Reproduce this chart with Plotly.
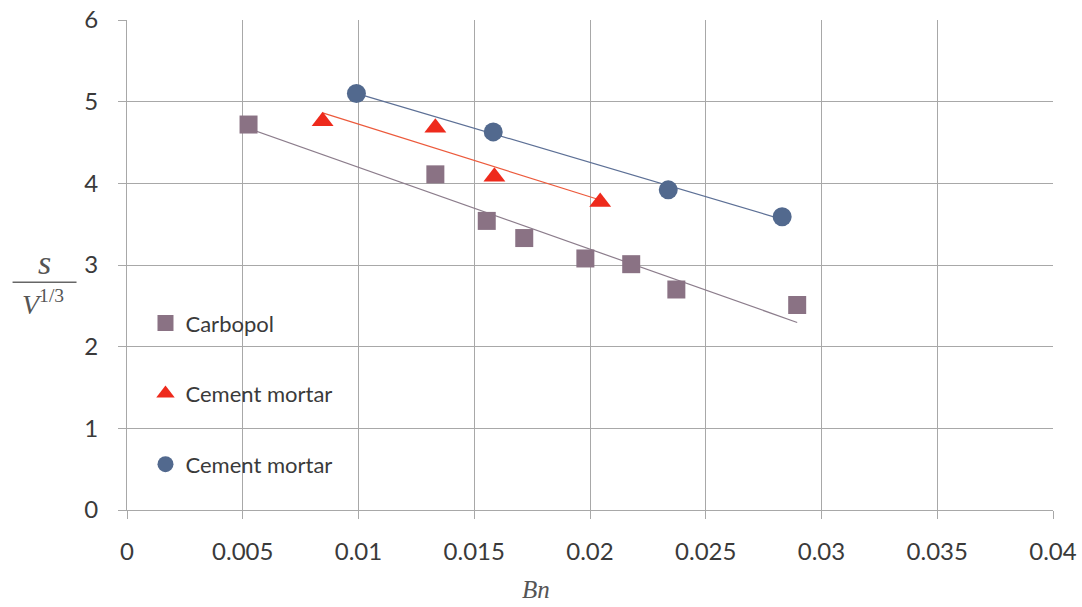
import numpy as np
import plotly.graph_objects as go

# Bingham number vs. normalised slump, three test series
carbopol_bn = [0.00525, 0.01332, 0.01554, 0.01716, 0.01980, 0.02178, 0.02373, 0.02895]
carbopol_s = [4.72, 4.11, 3.54, 3.33, 3.08, 3.01, 2.70, 2.51]

mortar_a_bn = [0.00845, 0.01332, 0.01587, 0.02044]
mortar_a_s = [4.76, 4.68, 4.08, 3.77]

mortar_b_bn = [0.00991, 0.01582, 0.02338, 0.02830]
mortar_b_s = [5.10, 4.63, 3.92, 3.59]

x_ticks = [0, 0.005, 0.01, 0.015, 0.02, 0.025, 0.03, 0.035, 0.04]
x_tick_text = ["0", "0.005", "0.01", "0.015", "0.02", "0.025", "0.03", "0.035", "0.04"]
y_ticks = [0, 1, 2, 3, 4, 5, 6]

W, H = 1082, 607
ML, MR, MT, MB = 126.5, 29, 19.5, 97
PW, PH = W - ML - MR, H - MT - MB

TEXT = "#3a3a3a"
GRID = "#a8a8a8"
FONT = "Lato"
SERIF = "Liberation Serif"

series = [
    dict(name="Carbopol", x=carbopol_bn, y=carbopol_s, symbol="square", size=18,
         color="#8a7284", line="#8c7d8c"),
    dict(name="Cement mortar", x=mortar_a_bn, y=mortar_a_s, symbol="triangle-up", size=19,
         color="#ee2a1c", line="#ec5a3c"),
    dict(name="Cement mortar", x=mortar_b_bn, y=mortar_b_s, symbol="circle", size=19,
         color="#52698e", line="#5d7096"),
]

fig = go.Figure()

# linear trend lines fitted to each series
for s in series:
    k, b = np.polyfit(s["x"], s["y"], 1)
    xs = np.array([min(s["x"]), max(s["x"])])
    fig.add_trace(go.Scatter(x=xs, y=k * xs + b, mode="lines",
                             line=dict(color=s["line"], width=1.2),
                             showlegend=False, hoverinfo="skip"))

for i, s in enumerate(series):
    fig.add_trace(go.Scatter(x=s["x"], y=s["y"], mode="markers", name=s["name"],
                             legendgroup=f"g{i}",
                             marker=dict(symbol=s["symbol"], size=s["size"], color=s["color"],
                                         line=dict(width=0))))

axis_common = dict(showgrid=True, gridcolor=GRID, gridwidth=1, showline=True,
                   linecolor=GRID, linewidth=1, zeroline=False, ticks="outside",
                   ticklen=8, tickcolor=GRID,
                   tickfont=dict(family=FONT, size=24, color=TEXT))

fig.update_xaxes(range=[0, 0.04], tickvals=x_ticks, ticktext=x_tick_text,
                 ticklabelstandoff=12, **axis_common)
fig.update_yaxes(range=[0, 6], tickvals=y_ticks, ticklabelstandoff=15, **axis_common)


def px(xp):
    return (xp - ML) / PW


def py(yp):
    return (H - MB - yp) / PH


# y-axis title drawn as a fraction s / V^(1/3)
fig.add_annotation(x=px(44), y=py(262), xref="paper", yref="paper", showarrow=False,
                   text="<i>s</i>", font=dict(family=SERIF, size=34, color="#555555"),
                   xanchor="center", yanchor="middle")
fig.add_shape(type="line", xref="paper", yref="paper", x0=px(12), x1=px(76),
              y0=py(282), y1=py(282), line=dict(color="#666666", width=1.3))
fig.add_annotation(x=px(42), y=py(302), xref="paper", yref="paper", showarrow=False,
                   text="<i>V</i><sup>1/3</sup>",
                   font=dict(family=SERIF, size=28, color="#555555"),
                   xanchor="center", yanchor="middle")
fig.add_annotation(x=px(536), y=py(590), xref="paper", yref="paper", showarrow=False,
                   text="<i>Bn</i>", font=dict(family=SERIF, size=25, color="#555555"),
                   xanchor="center", yanchor="middle")

fig.update_layout(
    width=W, height=H,
    margin=dict(l=ML, r=MR, t=MT, b=MB, autoexpand=False),
    plot_bgcolor="white", paper_bgcolor="white",
    showlegend=True,
    legend=dict(x=px(145), y=py(302), xanchor="left", yanchor="top",
                bgcolor="rgba(0,0,0,0)", tracegroupgap=39, itemsizing="trace",
                font=dict(family=FONT, size=22, color=TEXT)),
)

fig.write_html("out.html")
